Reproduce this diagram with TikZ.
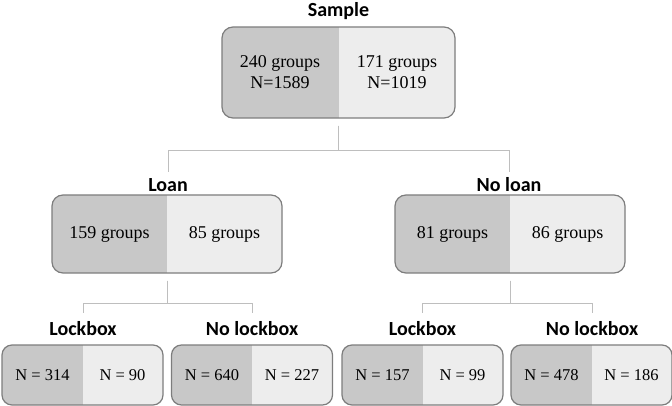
\documentclass[tikz,border=0pt]{standalone}
\usepackage{fontspec}
\setmainfont{Liberation Serif}
\newfontfamily\labelfont{Carlito}
\usetikzlibrary{positioning}

\definecolor{darkhalf}{RGB}{200,200,200}
\definecolor{lighthalf}{RGB}{237,237,237}
\definecolor{framegray}{RGB}{125,125,125}
\definecolor{branchgray}{RGB}{190,190,190}

\begin{document}
\begin{tikzpicture}
	[x=1pt,y=-1pt,
	group/.style={rectangle, rounded corners=11pt, inner sep=0pt, draw=framegray, line width=1.2pt, fill=lighthalf,
		path picture={\fill[darkhalf, sharp corners] (path picture bounding box.north west) rectangle (path picture bounding box.south);}},
	count/.style={font=\fontsize{18}{21}\selectfont, align=center, inner sep=0pt},
	small/.style={font=\fontsize{16.5}{20}\selectfont},
	head/.style={font=\labelfont\bfseries\fontsize{20}{24}\selectfont, inner sep=0pt, text height=14pt, text depth=4pt},
	branch/.style={draw=branchgray, line width=0.9pt, shorten <=7pt}]
	\useasboundingbox (0,0) rectangle (672,406);

	% top level
	\node[head] (sample) at (338.5,12) {Sample};
	\node[group, minimum width=233pt, minimum height=91pt] (all) at (338.5,72.5) {};
	\node[count] (allA) at (280,72.5) {240 groups\\N=1589};
	\node[count] (allB) at (397,72.5) {171 groups\\N=1019};

	% loan / no loan
	\node[head] (loan) at (168,187) {Loan};
	\node[head] (noloan) at (509,187) {No loan};
	\node[group, minimum width=230pt, minimum height=78pt] (ln) at (167,234) {};
	\node[count] (lnA) at (109.5,234) {159 groups};
	\node[count] (lnB) at (224.5,234) {85 groups};
	\node[group, minimum width=230pt, minimum height=78pt] (nl) at (510,234) {};
	\node[count] (nlA) at (452.5,234) {81 groups};
	\node[count] (nlB) at (567.5,234) {86 groups};

	% lockbox / no lockbox
	\node[head] (lock1) at (83,330) {Lockbox};
	\node[head] (nolock1) at (252,330) {No lockbox};
	\node[head] (lock2) at (422.5,330) {Lockbox};
	\node[head] (nolock2) at (592,330) {No lockbox};

	\node[group, rounded corners=10pt, minimum width=161pt, minimum height=60pt] (b1) at (82.5,375) {};
	\node[count, small] (b1A) at (42.5,375) {N = 314};
	\node[count, small] (b1B) at (122.5,375) {N = 90};
	\node[group, rounded corners=10pt, minimum width=161pt, minimum height=60pt] (b2) at (252,375) {};
	\node[count, small] (b2A) at (212,375) {N = 640};
	\node[count, small] (b2B) at (292,375) {N = 227};
	\node[group, rounded corners=10pt, minimum width=161pt, minimum height=60pt] (b3) at (422.5,375) {};
	\node[count, small] (b3A) at (382.5,375) {N = 157};
	\node[count, small] (b3B) at (462.5,375) {N = 99};
	\node[group, rounded corners=10pt, minimum width=161pt, minimum height=60pt] (b4) at (591.5,375) {};
	\node[count, small] (b4A) at (551.5,375) {N = 478};
	\node[count, small] (b4B) at (631.5,375) {N = 186};

	% tree lines
	\draw[branch, shorten >=6pt] (all.south) -- ++(0,32) -| (loan.north);
	\draw[branch, shorten >=6pt] (all.south) -- ++(0,32) -| (noloan.north);
	\draw[branch, shorten >=8pt] (ln.south) -- ++(0,30) -| (lock1.north);
	\draw[branch, shorten >=8pt] (ln.south) -- ++(0,30) -| (nolock1.north);
	\draw[branch, shorten >=8pt] (nl.south) -- ++(0,30) -| (lock2.north);
	\draw[branch, shorten >=8pt] (nl.south) -- ++(0,30) -| (nolock2.north);
\end{tikzpicture}
\end{document}
